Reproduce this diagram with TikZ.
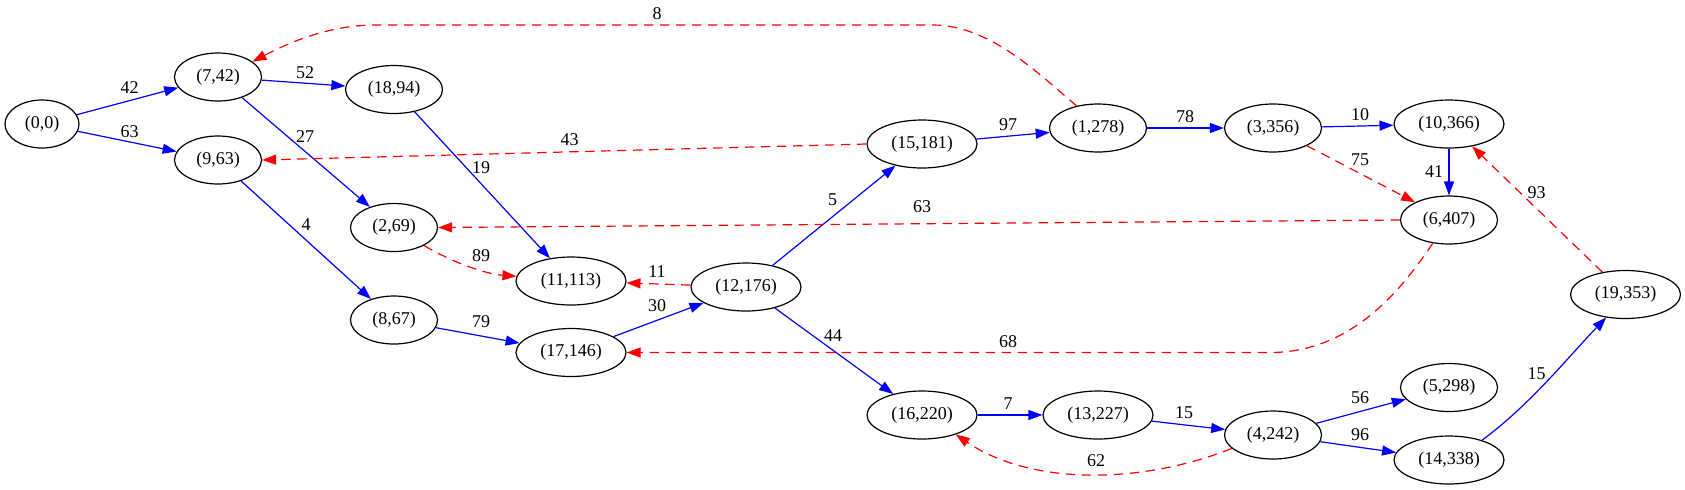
\documentclass[tikz,border=0pt]{standalone}
\usepackage{fontspec}
\setmainfont{Liberation Serif}
\usetikzlibrary{shapes.geometric,arrows.meta}
\begin{document}
\begin{tikzpicture}[x=0.5pt,y=-0.5pt,
  every node/.style={font=\fontsize{9}{10}\selectfont},
  vtx/.style={ellipse,draw=black,line width=0.6pt,inner sep=0pt,minimum height=24pt},
  wa/.style={vtx,minimum width=37pt},
  wb/.style={vtx,minimum width=43.5pt},
  wc/.style={vtx,minimum width=48.5pt},
  wd/.style={vtx,minimum width=55pt},
  tree/.style={draw=blue,line width=0.6pt,-{Triangle[length=7pt,width=5pt]}},
  back/.style={draw=red,line width=0.6pt,dash pattern=on 4.7pt off 3.3pt,-{Triangle[length=7pt,width=5pt]}},
  lbl/.style={inner sep=0pt}]
\useasboundingbox (0,0) rectangle (1685,489);
% nodes
\node[wa] (n0)  at (42,124)    {(0,0)};
\node[wb] (n7)  at (218,77)    {(7,42)};
\node[wb] (n9)  at (218,160)   {(9,63)};
\node[wc] (n18) at (394,89.5)  {(18,94)};
\node[wb] (n2)  at (394,227.5) {(2,69)};
\node[wb] (n8)  at (394,320)   {(8,67)};
\node[wd] (n11) at (571,281)   {(11,113)};
\node[wd] (n17) at (571,352.5) {(17,146)};
\node[wd] (n12) at (746,287)   {(12,176)};
\node[wd] (n15) at (922,144)   {(15,181)};
\node[wd] (n16) at (922,415)   {(16,220)};
\node[wc] (n1)  at (1098,128)  {(1,278)};
\node[wd] (n13) at (1098,415)  {(13,227)};
\node[wc] (n3)  at (1273,128)  {(3,356)};
\node[wc] (n4)  at (1273,435)  {(4,242)};
\node[wd] (n10) at (1449,124)  {(10,366)};
\node[wc] (n6)  at (1449,220)  {(6,407)};
\node[wc] (n5)  at (1449,387.5){(5,298)};
\node[wd] (n14) at (1449,460)  {(14,338)};
\node[wd] (n19) at (1625.5,294.5) {(19,353)};
% tree edges
\draw[tree] (n0) -- (n7);
\draw[tree] (n0) -- (n9);
\draw[tree] (n7) -- (n18);
\draw[tree] (n7) -- (n2);
\draw[tree] (n18) -- (n11);
\draw[tree] (n9) -- (n8);
\draw[tree] (n8) -- (n17);
\draw[tree] (n17) -- (n12);
\draw[tree] (n12) -- (n15);
\draw[tree] (n12) -- (n16);
\draw[tree] (n15) -- (n1);
\draw[tree] (n1) -- (n3);
\draw[tree] (n3) -- (n10);
\draw[tree] (n10) -- (n6);
\draw[tree] (n16) -- (n13);
\draw[tree] (n13) -- (n4);
\draw[tree] (n4) -- (n5);
\draw[tree] (n4) -- (n14);
\draw[tree] (n14.31) .. controls (1530,405) and (1570,355) .. (n19.230);
% back edges
\draw[back] (n1.134) .. controls (1040,75) and (990,25) .. (933,25) -- (375,25) .. controls (330,25) and (290,42) .. (n7.24);
\draw[back] (n15.west) -- (n9.east);
\draw[back] (n6.west) -- (n2.east);
\draw[back] (n2.329) .. controls (452,262) and (485,274) .. (n11.175);
\draw[back] (n12) -- (n11);
\draw[back] (n6.235) .. controls (1395,300) and (1345,352.5) .. (1270,352.5) -- (n17.east);
\draw[back] (n3) -- (n6);
\draw[back] (n19) -- (n10);
\draw[back] (n4.198) .. controls (1140,485) and (1030,485) .. (n16.330);
% labels
\node[lbl] (l1)  at (129.5,88)  {42};
\node[lbl] (l2)  at (129.5,132) {63};
\node[lbl] (l3)  at (305,73)    {52};
\node[lbl] (l4)  at (305,137)   {27};
\node[lbl] (l5)  at (481,168)   {19};
\node[lbl] (l6)  at (306,224.5) {4};
\node[lbl] (l7)  at (481,256)   {89};
\node[lbl] (l8)  at (481,322)   {79};
\node[lbl] (l9)  at (657,14)    {8};
\node[lbl] (l10) at (569.5,140) {43};
\node[lbl] (l11) at (832.5,200) {5};
\node[lbl] (l12) at (922,207)   {63};
\node[lbl] (l13) at (657,272)   {11};
\node[lbl] (l14) at (657,306)   {30};
\node[lbl] (l15) at (833,336)   {44};
\node[lbl] (l16) at (1008,342)  {68};
\node[lbl] (l17) at (1008,404)  {7};
\node[lbl] (l18) at (1096,460.5){62};
\node[lbl] (l19) at (1008,124.5){97};
\node[lbl] (l20) at (1185,116.7){78};
\node[lbl] (l21) at (1360,114.5){10};
\node[lbl] (l22) at (1360,160)  {75};
\node[lbl] (l23) at (1434,171.5){41};
\node[lbl] (l24) at (1536.5,193){93};
\node[lbl] (l25) at (1184,413)  {15};
\node[lbl] (l26) at (1360,398)  {56};
\node[lbl] (l27) at (1360,434.5){96};
\node[lbl] (l28) at (1536.5,373.5){15};
\end{tikzpicture}
\end{document}
